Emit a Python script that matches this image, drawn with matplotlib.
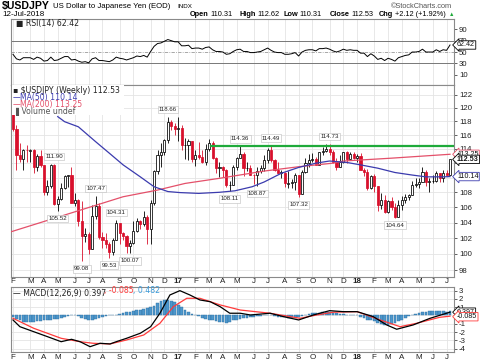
import numpy as np
import pandas as pd
import matplotlib
matplotlib.use('Agg')
import matplotlib.pyplot as plt
from matplotlib.patches import Rectangle
from matplotlib.ticker import FixedLocator, FixedFormatter, NullLocator

plt.rcParams['font.family'] = ['Liberation Sans', 'DejaVu Sans']

# ---------------- data ----------------
weeks = pd.date_range('2016-02-01', periods=128, freq='W-MON')

opens = [121.1, 116.9, 113.2, 112.6, 113.9, 113.8, 113.8, 111.5, 113.0, 111.7,
         108.1, 108.8, 111.8, 106.4, 107.1, 108.6, 110.2, 110.3, 106.5, 107.0,
         104.2, 102.2, 102.5, 100.6, 104.9, 106.1, 102.1, 101.8, 101.3, 100.2,
         101.8, 104.0, 102.6, 102.3, 101.0, 101.4, 102.9, 104.2, 103.8, 104.7,
         103.1, 106.6, 110.9, 113.2, 113.5, 115.3, 117.9, 117.3, 116.9, 117.0,
         114.5, 114.6, 115.1, 112.6, 113.2, 112.9, 112.1, 114.0, 114.8, 112.7,
         111.3, 111.4, 111.1, 109.0, 109.0, 111.5, 112.7, 113.3, 111.3, 111.3,
         110.4, 110.3, 110.9, 111.3, 112.4, 113.9, 112.5, 111.1, 110.7, 110.7,
         109.2, 109.2, 109.4, 110.3, 107.8, 110.8, 112.0, 112.5, 112.6, 111.8,
         113.5, 113.7, 114.0, 113.5, 112.1, 111.5, 112.2, 113.5, 112.6, 113.3,
         112.7, 113.0, 111.0, 110.8, 108.6, 110.2, 108.8, 106.3, 106.9, 105.4,
         106.8, 106.0, 104.7, 106.3, 106.9, 107.4, 107.7, 109.0, 109.1, 109.4,
         110.8, 109.4, 109.5, 109.5, 110.7, 109.9, 110.7, 110.31]
highs = [121.7, 117.5, 114.9, 114.0, 114.6, 114.0, 114.0, 113.3, 113.8, 111.8,
         109.7, 111.9, 111.9, 107.5, 109.3, 110.3, 110.4, 111.4, 107.9, 107.1,
         106.8, 103.3, 102.8, 106.3, 107.47, 106.5, 102.8, 102.6, 101.5, 102.0,
         104.31, 104.0, 102.8, 102.4, 101.8, 104.2, 104.6, 104.3, 105.5, 105.0,
         106.9, 111.0, 113.9, 114.8, 115.4, 118.66, 118.2, 117.8, 118.6, 117.5,
         115.6, 115.4, 115.2, 113.9, 115.0, 113.8, 114.7, 115.5, 115.2, 112.9,
         112.2, 111.6, 111.2, 109.6, 111.8, 112.9, 114.36, 113.5, 112.1, 111.7,
         110.5, 111.4, 111.8, 113.2, 114.2, 114.49, 112.6, 112.2, 111.0, 110.8,
         110.9, 109.8, 110.7, 110.3, 111.0, 112.7, 113.3, 113.4, 112.9, 113.6,
         114.3, 114.7, 114.73, 113.9, 112.7, 113.1, 113.6, 113.7, 113.6, 113.5,
         113.3, 113.4, 111.3, 111.2, 110.4, 110.5, 108.9, 107.9, 107.7, 107.0,
         107.3, 106.6, 107.0, 107.5, 107.8, 107.8, 109.5, 110.0, 110.0, 111.4,
         111.1, 109.9, 110.3, 110.9, 110.7, 111.0, 111.1, 112.62]
lows = [116.6, 111.0, 112.2, 111.0, 112.2, 112.2, 110.7, 110.9, 111.4, 107.7,
        107.6, 108.6, 106.3, 105.52, 107.0, 108.5, 108.7, 106.5, 106.2, 103.6,
        99.08, 101.5, 99.99, 100.6, 104.5, 101.9, 100.7, 100.8, 99.53, 99.9,
        101.8, 101.2, 101.7, 100.1, 100.07, 101.2, 102.8, 103.2, 103.6, 101.2,
        101.2, 106.3, 110.5, 111.4, 113.2, 114.8, 116.7, 116.0, 115.1, 113.8,
        112.6, 112.5, 112.1, 111.6, 112.6, 112.0, 111.7, 113.7, 112.6, 110.6,
        110.1, 110.1, 108.7, 108.11, 109.0, 111.0, 112.7, 110.2, 110.9, 110.4,
        109.1, 108.87, 110.6, 110.9, 112.0, 112.2, 110.9, 110.6, 109.9, 108.7,
        108.6, 108.6, 108.3, 107.32, 107.8, 110.7, 111.5, 112.2, 111.7, 111.7,
        113.2, 113.5, 113.1, 112.0, 111.1, 111.4, 112.0, 112.0, 112.6, 112.6,
        112.1, 111.0, 110.2, 108.3, 108.4, 108.0, 105.55, 105.8, 105.25, 105.3,
        105.6, 104.64, 104.7, 105.7, 106.6, 106.9, 107.7, 108.7, 108.6, 109.4,
        108.9, 108.1, 109.2, 109.4, 109.4, 109.4, 110.3, 110.31]
closes = [116.9, 113.2, 112.6, 113.9, 113.8, 113.8, 111.5, 113.0, 111.7, 108.1,
          108.8, 111.8, 106.4, 107.1, 108.6, 110.2, 110.3, 106.5, 107.0, 104.2,
          102.2, 102.5, 100.6, 104.9, 106.1, 102.1, 101.8, 101.3, 100.2, 101.8,
          104.0, 102.6, 102.3, 101.0, 101.4, 102.9, 104.2, 103.8, 104.7, 103.1,
          106.6, 110.9, 113.2, 113.5, 115.3, 117.9, 117.3, 116.9, 117.0, 114.5,
          114.6, 115.1, 112.6, 113.2, 112.9, 112.1, 114.0, 114.8, 112.7, 111.3,
          111.4, 111.1, 109.0, 109.0, 111.5, 112.7, 113.3, 111.3, 111.3, 110.4,
          110.3, 110.9, 111.3, 112.4, 113.9, 112.5, 111.1, 110.7, 110.7, 109.2,
          109.2, 109.4, 110.3, 107.8, 110.8, 112.0, 112.5, 112.6, 111.8, 113.5,
          113.7, 114.0, 113.5, 112.1, 111.5, 112.2, 113.5, 112.6, 113.3, 112.7,
          113.0, 111.0, 110.8, 108.6, 110.2, 108.8, 106.3, 106.9, 105.4, 106.8,
          106.0, 104.7, 106.3, 106.9, 107.4, 107.7, 109.0, 109.1, 109.4, 110.8,
          109.4, 109.5, 109.5, 110.7, 109.9, 110.7, 110.41, 112.53]

ma50_idx = [13, 15, 19, 24, 28, 32, 37, 41, 45, 48.5, 54, 60, 64.5, 69.5, 73, 78,
            83, 88, 92, 97, 101, 106, 111, 116, 120, 125, 127]
ma50_val = [118.7, 117.95, 117.2, 115.05, 113.4, 111.76, 110.1, 108.75, 108.1,
            107.96, 107.85, 108.0, 108.2, 108.75, 109.4, 110.6, 111.4, 112.0,
            112.3, 112.1, 111.76, 111.3, 110.7, 110.35, 110.1, 110.1, 110.14]

ma200_idx = [-0.6, 32, 42, 50, 60, 73, 83, 93, 96, 110, 127]
ma200_val = [102.8, 107.4, 108.3, 109.2, 109.9, 110.9, 111.5, 112.0, 112.3, 112.7, 113.25]

rsi_val = [46, 38, 36, 40, 40, 40, 37, 41, 39, 34, 35, 41, 35, 36, 39, 42, 42, 36,
           37, 34, 32, 33, 31, 38, 40, 35, 35, 34, 33, 36, 41, 39, 38, 36, 38, 40,
           43, 42, 44, 41, 51, 60, 65, 66, 69, 72, 70, 68, 68, 61, 61, 62, 56, 57,
           57, 55, 58, 59, 54, 51, 51, 50, 46, 47, 51, 54, 55, 51, 51, 49, 49, 50,
           51, 54, 57, 53, 50, 49, 49, 46, 46, 47, 49, 43, 50, 53, 54, 54, 52, 56,
           56, 57, 55, 52, 50, 52, 55, 53, 54, 53, 53, 48, 48, 42, 47, 43, 37, 39,
           35, 39, 37, 34, 40, 42, 44, 45, 50, 50, 51, 55, 50, 50, 50, 54, 51, 54,
           53, 62.42]

macd_idx = [0, 2, 6, 10, 14, 17, 19.5, 22.4, 25.3, 28.2, 30, 33, 37, 40, 42.7, 45.6,
            48.5, 51.4, 54.3, 57.3, 60.2, 63, 66, 69, 74.7, 78.6, 83, 87.3, 92, 96,
            100, 104.7, 108.6, 111.5, 116.3, 121.2, 126, 127]
macd_val = [-0.54, -1.35, -1.95, -2.55, -3.16, -2.87, -3.16, -3.76, -3.35, -3.43,
            -3.16, -2.75, -2.14, -1.35, 0.27, 2.47, 2.99, 2.47, 1.87, 1.66, 1.06,
            0.27, 0.27, 0.06, 0.27, -0.14, -0.54, 0.06, 0.58, 0.46, 0.46, -0.14,
            -1.14, -1.66, -1.14, -0.34, 0.27, 0.397]
signal_idx = [0, 6, 14, 19.5, 23.3, 28.2, 33, 38, 42.7, 46.6, 50.5, 54.3, 60.2, 66,
              74.7, 83.4, 88.3, 93, 100, 106.7, 112.5, 117.3, 124, 127]
signal_val = [-0.34, -1.54, -2.75, -3.16, -3.35, -3.43, -2.95, -2.35, -0.94, 1.06,
              2.07, 2.07, 1.27, 0.66, 0.27, -0.34, 0.06, 0.39, 0.46, -0.54, -1.35,
              -0.94, -0.22, -0.085]
hist_val = [-0.2, -0.4, -0.6, -0.8, -0.8, -0.8, -0.8, -0.7, -0.7, -0.6,
            -0.6, -0.5, -0.4, -0.4, -0.3, -0.2, -0.1, 0.0, 0.0, -0.1,
            -0.3, -0.4, -0.5, -0.5, -0.4, -0.3, -0.2, -0.1, 0.0, 0.05,
            0.1, 0.2, 0.3, 0.4, 0.4, 0.5, 0.6, 0.7, 0.8, 0.9,
            1.0, 1.2, 1.5, 1.8, 1.9, 1.9, 1.8, 1.6, 1.3, 1.0,
            0.7, 0.4, 0.2, 0.05, -0.1, -0.3, -0.4, -0.5, -0.6, -0.7,
            -0.8, -0.8, -0.9, -0.8, -0.6, -0.5, -0.4, -0.3, -0.3, -0.2,
            -0.2, -0.1, -0.05, 0.0, 0.05, 0.0, -0.1, -0.2, -0.2, -0.2,
            -0.3, -0.3, -0.3, -0.2, -0.1, 0.1, 0.2, 0.3, 0.3, 0.3,
            0.4, 0.4, 0.4, 0.3, 0.3, 0.2, 0.2, 0.1, 0.1, 0.05,
            0.0, -0.15, -0.3, -0.5, -0.6, -0.7, -0.9, -1.0, -1.1, -1.1,
            -1.0, -0.9, -0.7, -0.5, -0.3, -0.1, 0.1, 0.2, 0.3, 0.4,
            0.45, 0.5, 0.5, 0.55, 0.55, 0.5, 0.45, 0.482]

price_labels = [(12, 111.90, 'h'), (13, 105.52, 'l'), (20, 99.08, 'l'), (24, 107.47, 'h'),
                (28, 99.53, 'l'), (30, 104.31, 'h'), (34, 100.07, 'l'), (45, 118.66, 'h'),
                (63, 108.11, 'l'), (66, 114.36, 'h'), (71, 108.87, 'l'), (75, 114.49, 'h'),
                (83, 107.32, 'l'), (92, 114.73, 'h'), (111, 104.64, 'l')]
resist_level = 114.4
resist_start = 57.5

price_ticks = list(range(98, 123, 2))
price_tick_labels = ['98', '100', '102', '104', '106', '108', '', '', '114', '116',
                     '118', '120', '122']
rsi_ticks = [10, 30, 50, 70, 90]
macd_ticks = [-4, -3, -2, -1, 0, 1, 2, 3]
macd_tick_labels = ['-4', '-3', '-2', '-1', '', '1', '2', '3']

# ---------------- layout helpers ----------------
W, H = 480, 363
def rect(x0, y0, x1, y1):
    return [x0 / W, 1 - y1 / H, (x1 - x0) / W, (y1 - y0) / H]
def fx(x): return x / W
def fy(y): return 1 - y / H

RED = '#d8102c'
BLUE = '#3b3bae'
PINK = '#e4506a'
GRID = '#e4e4e4'
SPINE = '#8a8a8a'
n = len(closes)
xs = np.arange(n)
XL = (-0.58, 128.16)

fig = plt.figure(figsize=(4.8, 3.63), dpi=100)
fig.patch.set_facecolor('white')

ax_r = fig.add_axes(rect(11, 19, 454, 85))
ax_p = fig.add_axes(rect(11, 85, 454, 277))
ax_m = fig.add_axes(rect(11, 287, 454, 352))

# month positions
mpos, mlab = [], []
for i, d in enumerate(weeks):
    if i == 0 or d.month != weeks[i - 1].month:
        mpos.append(i)
        mlab.append(d.strftime('%y') if d.month == 1 else d.strftime('%b')[0])

for ax in (ax_r, ax_p, ax_m):
    ax.set_xlim(*XL)
    ax.set_xticks(mpos)
    ax.tick_params(axis='x', length=0, labelbottom=False)
    ax.grid(axis='x', color=GRID, lw=0.6, zorder=0)
    ax.yaxis.tick_right()
    ax.tick_params(axis='y', labelsize=5.6, length=2, width=0.5, pad=1.5,
                   colors='#222222')
    for s in ax.spines.values():
        s.set_color(SPINE)
        s.set_linewidth(0.8)
    ax.set_axisbelow(True)

# ---------------- RSI ----------------
ax_r.set_ylim(-8.1, 108.2)
ax_r.set_yticks(rsi_ticks)
ax_r.plot(xs, rsi_val, color='black', lw=0.7, zorder=3)
ax_r.axhline(70, color='#777777', lw=0.7, zorder=2)
ax_r.axhline(30, color='#777777', lw=0.7, zorder=2)
ax_r.axhline(50, color='#999999', lw=0.6, ls=(0, (4, 1.5, 1, 1.5)), zorder=2)
ax_r.text(0.012, 0.93, '\u25a0 RSI(14) 62.42', transform=ax_r.transAxes, fontsize=5.6,
          family='DejaVu Sans', va='center', ha='left', color='#222222')

# ---------------- price ----------------
ax_p.set_yscale('log')
ax_p.set_ylim(97.16, 123.48)
ax_p.yaxis.set_major_locator(FixedLocator(price_ticks))
ax_p.yaxis.set_major_formatter(FixedFormatter(price_tick_labels))
ax_p.yaxis.set_minor_locator(NullLocator())
ax_p.grid(axis='y', color=GRID, lw=0.6, zorder=0)

cw = 0.62
for i in range(n):
    o, h, l, c = opens[i], highs[i], lows[i], closes[i]
    prev = closes[i - 1] if i > 0 else o
    col = RED if c < prev else 'black'
    filled = c < o
    ax_p.vlines(i, l, h, color=col, lw=0.6, zorder=3)
    lo, hi = min(o, c), max(o, c)
    if hi - lo < 0.06:
        lo, hi = lo - 0.03, hi + 0.03
    ax_p.add_patch(Rectangle((i - cw / 2, lo), cw, hi - lo,
                             facecolor=col if filled else 'white',
                             edgecolor=col, lw=0.55, zorder=4))

ax_p.plot(ma200_idx, ma200_val, color=PINK, lw=0.9, zorder=5)
ax_p.plot(ma50_idx, ma50_val, color=BLUE, lw=0.9, zorder=5)
ax_p.plot([resist_start, XL[1]], [resist_level, resist_level], color='#1faa3a',
          lw=1.6, zorder=6)

for idx, val, kind in price_labels:
    off = 7.5 if kind == 'h' else -7.5
    ypt = highs[idx] if kind == 'h' else lows[idx]
    ax_p.annotate('%.2f' % val, xy=(idx, ypt), xytext=(0, off * 0.72),
                  textcoords='offset points', ha='center', va='center',
                  fontsize=4.4, color='#222222', zorder=8,
                  bbox=dict(boxstyle='square,pad=0.2', fc='white', ec='#bbbbbb', lw=0.4))

# legend box
fig.add_artist(Rectangle((fx(11.5), fy(115)), fx(112), 30 / H, transform=fig.transFigure,
                         facecolor='white', edgecolor='none', zorder=2))
fig.text(fx(13), fy(90.5), '\u25aa $USDJPY (Weekly) 112.53', fontsize=5.6,
         family='DejaVu Sans', va='center', color='#222222', zorder=3)
fig.text(fx(13), fy(97.5), '\u2014', fontsize=5.6, family='DejaVu Sans', va='center',
         color=BLUE, zorder=3)
fig.text(fx(20), fy(97.5), 'MA(50) 110.14', fontsize=5.6, family='DejaVu Sans',
         va='center', color=BLUE, zorder=3)
fig.text(fx(13), fy(105), '\u2014', fontsize=5.6, family='DejaVu Sans', va='center',
         color=PINK, zorder=3)
fig.text(fx(20), fy(105), 'MA(200) 113.25', fontsize=5.6, family='DejaVu Sans',
         va='center', color=PINK, zorder=3)
fig.text(fx(13), fy(112), '\u2590 Volume undef', fontsize=5.6, family='DejaVu Sans',
         va='center', color='#555555', zorder=3)

# ---------------- MACD ----------------
ax_m.set_ylim(-4.40, 3.43)
ax_m.yaxis.set_major_locator(FixedLocator(macd_ticks))
ax_m.yaxis.set_major_formatter(FixedFormatter(macd_tick_labels))
ax_m.grid(axis='y', color=GRID, lw=0.6, zorder=0)
ax_m.bar(xs, hist_val, width=0.8, color='#4d97cc', edgecolor='#2f6f9f', lw=0.3, zorder=2)
ax_m.plot(signal_idx, signal_val, color='#ff3b3b', lw=0.9, zorder=3)
ax_m.plot(macd_idx, macd_val, color='black', lw=0.9, zorder=4)
ax_m.text(0.005, 0.9, '\u2014 MACD(12,26,9) 0.397', transform=ax_m.transAxes, fontsize=5.6,
          family='DejaVu Sans', va='center', color='#222222')
fig.text(fx(104), fy(290.7), ', -0.085', fontsize=5.6, family='DejaVu Sans', va='center',
         color='#ff3b3b')
fig.text(fx(133), fy(290.7), ', 0.482', fontsize=5.6, family='DejaVu Sans', va='center',
         color='#3a9ad9')

# month labels
for ax, dy in ((ax_p, -4.5), (ax_m, -5.5)):
    for p, lab in zip(mpos, mlab):
        bold = lab.isdigit()
        ax.annotate(lab, xy=(p, 0), xycoords=('data', 'axes fraction'),
                    xytext=(0, dy * 0.72), textcoords='offset points', ha='center',
                    va='center', fontsize=5.8, fontweight='bold' if bold else 'normal',
                    color='#222222', annotation_clip=False)

# right value boxes
def vbox(ax, y, txt, ec, bold=False):
    ax.annotate(txt, xy=(1.0, y), xycoords=('axes fraction', 'data'),
                xytext=(2.2, 0), textcoords='offset points', ha='left', va='center',
                fontsize=5.1, color='#111111', fontweight='bold' if bold else 'normal',
                annotation_clip=False, zorder=10,
                bbox=dict(boxstyle='larrow,pad=0.1', fc='white', ec=ec, lw=0.6))

vbox(ax_p, 113.25, '113.25', PINK)
vbox(ax_p, 112.53, '112.53', 'black', bold=True)
vbox(ax_p, 110.14, '110.14', BLUE)
vbox(ax_r, 62.42, '62.42', 'black')
vbox(ax_m, 0.40, '0.397', 'black')
vbox(ax_m, -0.15, '-0.085', '#ff3b3b')

# ---------------- header ----------------
fig.text(fx(2), fy(6), '$USDJPY', fontsize=7.6, fontweight='bold', va='center')
fig.text(fx(53), fy(6), 'US Dollar to Japanese Yen (EOD)', fontsize=5.6, va='center')
fig.text(fx(177), fy(6.5), 'INDX', fontsize=4.5, va='center')
fig.text(fx(2), fy(15), '12-Jul-2018', fontsize=5.8, va='center')
fig.text(fx(452), fy(6), '\u00a9StockCharts.com', fontsize=5.3, va='center', ha='right',
         color='#555555')

hdr = [('Open', True, 190), ('110.31', False, 210), ('High', True, 240), ('112.62', False, 257),
       ('Low', True, 283), ('110.31', False, 299), ('Close', True, 330), ('112.53', False, 351),
       ('Chg', True, 379), ('+2.12 (+1.92%)', False, 395)]
for t, b, x in hdr:
    fig.text(fx(x), fy(15), t, fontsize=5.3, fontweight='bold' if b else 'normal', va='center')
fig.text(fx(454), fy(15), '\u25b2', fontsize=4.0, va='center', ha='right', color='#1faa3a')

fig.savefig('out.png', dpi=100)
